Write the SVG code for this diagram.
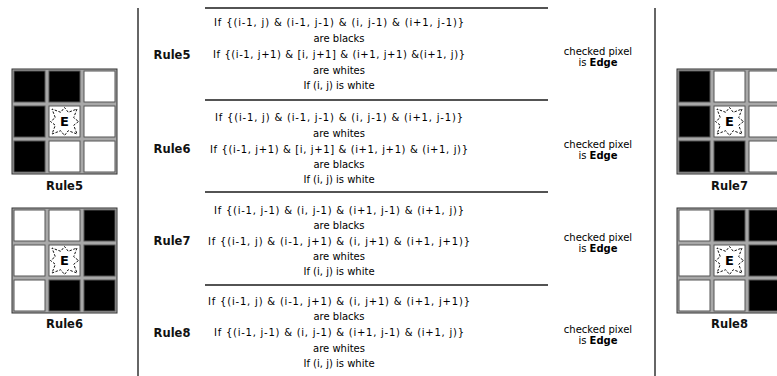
<svg xmlns="http://www.w3.org/2000/svg" xmlns:xlink="http://www.w3.org/1999/xlink" width="777" height="376" viewBox="0 0 777 376">
<style>
.bg{fill:#a8a8a8;stroke:#333;stroke-width:1}
.b{fill:#000;stroke:#555;stroke-width:1}
.w{fill:#fff;stroke:#555;stroke-width:1}
.star{fill:none;stroke:#111;stroke-width:1;stroke-dasharray:2.5 1.5}
.E{font-family:"DejaVu Sans",Verdana,sans-serif;font-weight:bold;font-size:13px;fill:#000;text-anchor:middle}
.glab{font-family:"DejaVu Sans",Verdana,sans-serif;font-weight:bold;font-size:11.5px;fill:#111;text-anchor:middle}
.rlab{font-family:"DejaVu Sans",Verdana,sans-serif;font-weight:bold;font-size:11.5px;fill:#111;text-anchor:middle}
.t{font-family:"DejaVu Sans",Verdana,sans-serif;font-size:10px;fill:#000;text-anchor:middle}
.c{font-family:"DejaVu Sans",Verdana,sans-serif;font-size:10px;fill:#000;text-anchor:middle}
.sep{stroke:#1a1a1a;stroke-width:1.5}
.vl{stroke:#333;stroke-width:1.5}
</style>
<defs>
<g id="ecell">
<rect class="w" x="-15.5" y="-15.5" width="31" height="31"/>
<polygon class="star" points="14,0 9.2,3.8 12.5,12.5 3.8,9.2 0,14 -3.8,9.2 -12.5,12.5 -9.2,3.8 -14,0 -9.2,-3.8 -12.5,-12.5 -3.8,-9.2 0,-14 3.8,-9.2 12.5,-12.5 9.2,-3.8"/>
<text class="E" x="0" y="4.8">E</text>
</g>
</defs>

<g id="dividers">
<line class="vl" x1="138" y1="8" x2="138" y2="376"/>
<line class="vl" x1="655" y1="8" x2="655" y2="376"/>
<line class="sep" x1="205" y1="8" x2="548" y2="8"/>
<line class="sep" x1="205" y1="100" x2="548" y2="100"/>
<line class="sep" x1="205" y1="192" x2="548" y2="192"/>
<line class="sep" x1="205" y1="285" x2="548" y2="285"/>
</g>

<g id="grid-rule5">
<rect class="bg" x="12" y="69" width="105" height="105"/>
<rect class="b" x="14" y="71" width="31" height="31"/>
<rect class="b" x="49" y="71" width="31" height="31"/>
<rect class="w" x="84" y="71" width="31" height="31"/>
<rect class="b" x="14" y="106" width="31" height="31"/>
<use xlink:href="#ecell" x="64.5" y="121.5"/>
<rect class="w" x="84" y="106" width="31" height="31"/>
<rect class="b" x="14" y="141" width="31" height="31"/>
<rect class="w" x="49" y="141" width="31" height="31"/>
<rect class="w" x="84" y="141" width="31" height="31"/>
<text class="glab" x="64.5" y="190">Rule5</text>
</g>

<g id="grid-rule6">
<rect class="bg" x="12" y="208" width="105" height="105"/>
<rect class="w" x="14" y="210" width="31" height="31"/>
<rect class="w" x="49" y="210" width="31" height="31"/>
<rect class="b" x="84" y="210" width="31" height="31"/>
<rect class="w" x="14" y="245" width="31" height="31"/>
<use xlink:href="#ecell" x="64.5" y="260.5"/>
<rect class="b" x="84" y="245" width="31" height="31"/>
<rect class="w" x="14" y="280" width="31" height="31"/>
<rect class="b" x="49" y="280" width="31" height="31"/>
<rect class="b" x="84" y="280" width="31" height="31"/>
<text class="glab" x="64.5" y="328">Rule6</text>
</g>

<g id="grid-rule7">
<rect class="bg" x="677" y="69" width="105" height="105"/>
<rect class="b" x="679" y="71" width="31" height="31"/>
<rect class="w" x="714" y="71" width="31" height="31"/>
<rect class="w" x="749" y="71" width="31" height="31"/>
<rect class="b" x="679" y="106" width="31" height="31"/>
<use xlink:href="#ecell" x="729.5" y="121.5"/>
<rect class="w" x="749" y="106" width="31" height="31"/>
<rect class="b" x="679" y="141" width="31" height="31"/>
<rect class="b" x="714" y="141" width="31" height="31"/>
<rect class="w" x="749" y="141" width="31" height="31"/>
<text class="glab" x="729.5" y="190">Rule7</text>
</g>

<g id="grid-rule8">
<rect class="bg" x="677" y="208" width="105" height="105"/>
<rect class="w" x="679" y="210" width="31" height="31"/>
<rect class="b" x="714" y="210" width="31" height="31"/>
<rect class="b" x="749" y="210" width="31" height="31"/>
<rect class="w" x="679" y="245" width="31" height="31"/>
<use xlink:href="#ecell" x="729.5" y="260.5"/>
<rect class="b" x="749" y="245" width="31" height="31"/>
<rect class="w" x="679" y="280" width="31" height="31"/>
<rect class="w" x="714" y="280" width="31" height="31"/>
<rect class="b" x="749" y="280" width="31" height="31"/>
<text class="glab" x="729.5" y="328">Rule8</text>
</g>

<g id="row-rule5">
<text class="rlab" x="172" y="59">Rule5</text>
<text class="t" x="339" y="26" textLength="250" lengthAdjust="spacing">If {(i-1, j) &amp; (i-1, j-1) &amp; (i, j-1) &amp; (i+1, j-1)}</text>
<text class="t" x="339" y="42">are blacks</text>
<text class="t" x="339" y="58" textLength="252" lengthAdjust="spacing">If {(i-1, j+1) &amp; [i, j+1] &amp; (i+1, j+1) &amp;(i+1, j)}</text>
<text class="t" x="339" y="74">are whites</text>
<text class="t" x="339" y="89">If (i, j) is white</text>
<text class="c" x="598" y="55">checked pixel</text>
<text class="c" x="598" y="66">is <tspan font-weight="bold">Edge</tspan></text>
</g>

<g id="row-rule6">
<text class="rlab" x="172" y="153">Rule6</text>
<text class="t" x="339" y="120.5" textLength="248" lengthAdjust="spacing">If {(i-1, j) &amp; (i-1, j-1) &amp; (i, j-1) &amp; (i+1, j-1)}</text>
<text class="t" x="339" y="136.5">are whites</text>
<text class="t" x="339" y="152.5" textLength="258" lengthAdjust="spacing">If {(i-1, j+1) &amp; [i, j+1] &amp; (i+1, j+1) &amp; (i+1, j)}</text>
<text class="t" x="339" y="167.5">are blacks</text>
<text class="t" x="339" y="183">If (i, j) is white</text>
<text class="c" x="598" y="148">checked pixel</text>
<text class="c" x="598" y="159">is <tspan font-weight="bold">Edge</tspan></text>
</g>

<g id="row-rule7">
<text class="rlab" x="172" y="245">Rule7</text>
<text class="t" x="339" y="213.5" textLength="250" lengthAdjust="spacing">If {(i-1, j-1) &amp; (i, j-1) &amp; (i+1, j-1) &amp; (i+1, j)}</text>
<text class="t" x="339" y="228.5">are blacks</text>
<text class="t" x="339" y="244.5" textLength="262" lengthAdjust="spacing">If {(i-1, j) &amp; (i-1, j+1) &amp; (i, j+1) &amp; (i+1, j+1)}</text>
<text class="t" x="339" y="259.5">are whites</text>
<text class="t" x="339" y="274.5">If (i, j) is white</text>
<text class="c" x="598" y="241">checked pixel</text>
<text class="c" x="598" y="252">is <tspan font-weight="bold">Edge</tspan></text>
</g>

<g id="row-rule8">
<text class="rlab" x="172" y="337">Rule8</text>
<text class="t" x="339" y="304.5" textLength="262" lengthAdjust="spacing">If {(i-1, j) &amp; (i-1, j+1) &amp; (i, j+1) &amp; (i+1, j+1)}</text>
<text class="t" x="339" y="320">are blacks</text>
<text class="t" x="339" y="336" textLength="250" lengthAdjust="spacing">If {(i-1, j-1) &amp; (i, j-1) &amp; (i+1, j-1) &amp; (i+1, j)}</text>
<text class="t" x="339" y="351.5">are whites</text>
<text class="t" x="339" y="366.5">If (i, j) is white</text>
<text class="c" x="598" y="333">checked pixel</text>
<text class="c" x="598" y="344">is <tspan font-weight="bold">Edge</tspan></text>
</g>
</svg>
